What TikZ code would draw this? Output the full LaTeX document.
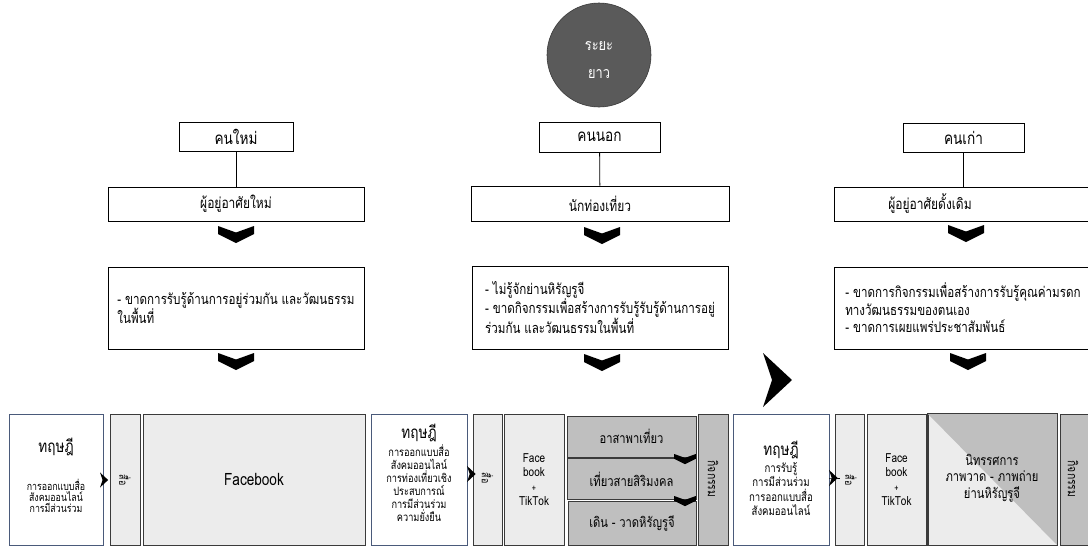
\documentclass[tikz,border=0pt]{standalone}
\usepackage{fontspec}
\setmainfont[Script=Thai, FakeStretch=0.8]{Loma}
\usetikzlibrary{calc}
\definecolor{dk}{HTML}{5A5A5A}
\definecolor{lg}{HTML}{ECECEC}
\definecolor{mg}{HTML}{BFBFBF}
\definecolor{bl}{HTML}{4A5A7A}
\definecolor{bd}{HTML}{3A3A3A}
\tikzset{
  lvlone/.style={draw=black, line width=0.8pt, fill=white, inner sep=0pt, font=\fontsize{17}{19}\selectfont},
  lvltwo/.style={draw=black, line width=0.8pt, fill=white, inner sep=0pt, font=\fontsize{15}{17}\selectfont},
  desc/.style={draw=black, line width=0.8pt, fill=white, inner sep=0pt, align=left, font=\fontsize{14.5}{19.5}\selectfont},
  theory/.style={draw=bl, line width=0.8pt, fill=white, inner sep=0pt},
  media/.style={draw=bd, line width=0.7pt, fill=lg, inner sep=0pt},
  act/.style={draw=bd, line width=0.7pt, fill=mg, inner sep=0pt, font=\fontsize{14}{16}\selectfont},
  ttl/.style={inner sep=0pt, font=\fontsize{17}{19}\selectfont},
  vert/.style={inner sep=0pt, rotate=-90, font=\fontsize{11}{13}\selectfont},
  dchev/.pic={\fill (-18,0)--(0,6.5)--(18,0)--(18,8)--(0,17)--(-18,8)--cycle;},
  rchev/.pic={\fill (0,-27)--(29,0)--(0,27)--(9,0)--cycle;},
}
\begin{document}
\begin{tikzpicture}[x=1pt,y=-1pt]
\useasboundingbox (0,0) rectangle (1088,547);
% circle
\node[circle, fill=dk, draw=bd, line width=0.6pt, minimum size=104pt, inner sep=0pt] (r) at (599,55) {};
\node[inner sep=0pt, text=white, align=center, font=\fontsize{16}{28}\selectfont] (rt) at (599,60) {ระยะ\\ยาว};
% top level
\node[lvlone, minimum width=114pt, minimum height=29pt] (a1) at (236,136.5) {คนใหม่};
\node[lvltwo, minimum width=256pt, minimum height=34pt] (a2) at (236,204) {ผู้อยู่อาศัยใหม่};
\node[lvlone, minimum width=121pt, minimum height=30pt] (b1) at (599.5,137) {คนนอก};
\node[lvltwo, minimum width=258pt, minimum height=35pt] (b2) at (600,203.5) {นักท่องเที่ยว};
\node[lvlone, minimum width=121pt, minimum height=29pt] (c1) at (963.5,137.5) {คนเก่า};
\node[lvltwo, minimum width=258pt, minimum height=34pt] (c2) at (963,204) {};
\node[inner sep=0pt, font=\fontsize{15}{17}\selectfont] (c2t) at (930,204) {ผู้อยู่อาศัยดั้งเดิม};
\draw[line width=0.8pt] (a1) -- (a2);
\draw[line width=0.8pt] (b1) -- (b2);
\draw[line width=0.8pt] (c1.south) -- (c1.south |- c2.north);
% descriptions
\node[desc, minimum width=256pt, minimum height=82pt] (d1) at (236,308) {- ขาดการรับรู้ด้านการอยู่ร่วมกัน และวัฒนธรรม\\ในพื้นที่};
\node[desc, minimum width=256pt, minimum height=83pt] (d2) at (600,307.5) {- ไม่รู้จักย่านหิรัญรูจี\\- ขาดกิจกรรมเพื่อสร้างการรับรู้รับรู้ด้านการอยู่\\ร่วมกัน และวัฒนธรรมในพื้นที่};
\node[desc, minimum width=258pt, minimum height=82pt, font=\fontsize{14.5}{17.5}\selectfont] (d3) at (963,308) {- ขาดการกิจกรรมเพื่อสร้างการรับรู้คุณค่ามรดก\\ทางวัฒนธรรมของตนเอง\\- ขาดการเผยแพร่ประชาสัมพันธ์};
% chevrons
\pic at (236,226) {dchev};
\pic at (602,227) {dchev};
\pic at (966,225) {dchev};
\pic at (236,353) {dchev};
\pic at (602,354) {dchev};
\pic at (968,353) {dchev};
\pic at (763,380) {rchev};
% bottom left
\node[theory, minimum width=94pt, minimum height=131pt] (t1) at (56,479.5) {};
\node[ttl] (t1a) at (56,447) {ทฤษฎี};
\node[inner sep=0pt, align=center, font=\fontsize{11}{10.7}\selectfont] (t1b) at (56,496) {การออกแบบสื่อ\\สังคมออนไลน์\\การมีส่วนร่วม};
\node[media, minimum width=30pt, minimum height=131pt] (s1) at (125,479.5) {};
\node[vert] (s1t) at (125,480) {สื่อ};
\node[media, minimum width=222pt, minimum height=131pt, font=\fontsize{17}{19}\selectfont] (f1) at (254,479.5) {Facebook};
\pic[scale=0.28] at (100,480) {rchev};
% bottom middle
\node[theory, minimum width=96pt, minimum height=131pt] (t2) at (419,479.5) {};
\node[ttl] (t2a) at (419,433) {ทฤษฎี};
\node[inner sep=0pt, align=center, font=\fontsize{11.5}{13}\selectfont] (t2b) at (419,483) {การออกแบบสื่อ\\สังคมออนไลน์\\การท่องเที่ยวเชิง\\ประสบการณ์\\การมีส่วนร่วม\\ความยั่งยืน};
\node[media, minimum width=29pt, minimum height=131pt] (s2) at (487.5,479.5) {};
\node[vert] (s2t) at (487.5,478) {สื่อ};
\pic[scale=0.3] at (467,474) {rchev};
\node[media, minimum width=60pt, minimum height=131pt, align=center, font=\fontsize{12.5}{14.5}\selectfont] (f2) at (534,479.5) {Face\\book\\{\fontsize{9}{10}\selectfont +}\\TikTok};
\node[act, minimum width=129pt, minimum height=41pt] (g1) at (631.5,436.5) {อาสาพาเที่ยว};
\node[act, minimum width=129pt, minimum height=41pt] (g2) at (631.5,479) {เที่ยวสายสิริมงคล};
\node[act, minimum width=128pt, minimum height=44pt] (g3) at (632,523) {เดิน - วาดหิรัญรูจี};
\pic[scale=0.6] at (685,454) {dchev};
\pic[scale=0.6] at (685,496) {dchev};
\node[act, minimum width=30pt, minimum height=131pt] (k2) at (713,479.5) {};
\node[vert, font=\fontsize{13}{15}\selectfont] (k2t) at (713,479) {กิจกรรม};
% bottom right
\node[theory, minimum width=96pt, minimum height=131pt] (t3) at (781,479.5) {};
\node[ttl] (t3a) at (781,450) {ทฤษฎี};
\node[inner sep=0pt, align=center, font=\fontsize{12}{14.3}\selectfont] (t3b) at (781,489) {การรับรู้\\การมีส่วนร่วม\\การออกแบบสื่อ\\สังคมออนไลน์};
\node[media, minimum width=29pt, minimum height=131pt] (s3) at (849.5,479.5) {};
\node[vert] (s3t) at (851,480) {สื่อ};
\draw[line width=0.8pt] (t3.east |- 0,478) -- (s3.west |- 0,478) -- ++(5,0);
\pic[scale=0.3] at (829,478) {rchev};
\node[media, minimum width=59pt, minimum height=131pt, align=center, font=\fontsize{12.5}{14.5}\selectfont] (f3) at (896.5,479.5) {Face\\book\\{\fontsize{9}{10}\selectfont +}\\TikTok};
\node[media, minimum width=129pt, minimum height=131pt] (e3) at (992.5,479.5) {};
\fill[mg] (e3.north west) -- (e3.north east) -- (e3.south east) -- cycle;
\draw[bd, line width=0.7pt] (e3.north west) rectangle (e3.south east);
\node[inner sep=0pt, align=center, font=\fontsize{14}{16.5}\selectfont] (e3t) at (992,478) {นิทรรศการ\\ภาพวาด - ภาพถ่าย\\ย่านหิรัญรูจี};
\node[act, minimum width=32pt, minimum height=131pt] (k3) at (1076,479.5) {};
\node[vert, font=\fontsize{13}{15}\selectfont] (k3t) at (1073,479) {กิจกรรม};
\end{tikzpicture}
\end{document}
